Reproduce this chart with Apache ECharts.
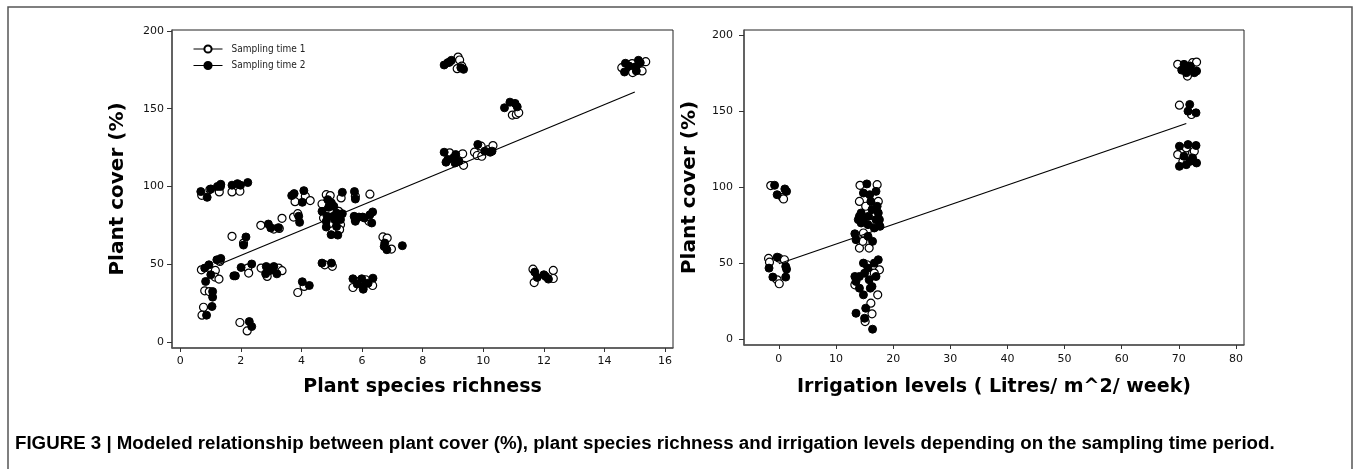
<!DOCTYPE html>
<html>
<head>
<meta charset="utf-8">
<script src="https://cdn.jsdelivr.net/npm/echarts@6/dist/echarts.min.js"></script>
<style>
  html, body { margin: 0; padding: 0; background: #fff; }
  #chart { width: 1355px; height: 469px; }
</style>
</head>
<body>
<div id="chart"></div>
<script>
// tick labels
var yTicks = [0, 50, 100, 150, 200];
var richTicks = [0, 2, 4, 6, 8, 10, 12, 14, 16];
var irrTicks = [0, 10, 20, 30, 40, 50, 60, 70, 80];

// left panel: plant species richness vs plant cover, [x, y]
var richT1 = [
  [0.71, 94.3], [0.98, 98], [1.29, 96.5], [1.71, 96.5], [1.97, 96.9],
  [0.70, 46.4], [1.16, 46], [1.15, 41.7], [1.28, 40.4], [1.31, 51.8], [0.81, 32.9], [0.96, 32.4],
  [0.77, 22.3], [0.72, 17.2], [1.97, 12.5], [2.21, 7.1],
  [1.71, 67.9], [2.23, 47.5], [2.26, 44.3], [2.09, 63.6],
  [2.67, 47.5], [2.87, 42.1], [3.11, 46.8], [3.25, 47.5], [3.36, 45.8],
  [2.66, 75], [3.09, 72.6], [3.27, 73], [3.36, 79.5],
  [3.79, 90.2], [4.13, 93.7], [4.29, 90.9], [3.74, 80.3], [3.88, 82.5],
  [3.88, 31.8], [4.09, 35.7], [4.77, 49.6], [5.02, 48.6],
  [4.68, 88.7], [4.82, 94.7], [4.95, 94.1], [4.73, 79.7], [4.92, 76], [5.23, 84], [5.31, 92.6], [5.29, 75.4], [5.26, 72.2],
  [5.78, 93.7], [6.26, 95], [5.78, 78.6], [6.17, 79.7], [6.23, 77.6],
  [5.70, 35], [5.90, 38.9], [6.12, 40], [6.35, 36.3],
  [6.69, 67.5], [6.83, 66.8], [6.97, 59.7],
  [8.89, 180], [9.17, 183.2], [9.14, 175.7], [9.22, 181.3], [9.29, 177.4],
  [8.89, 121.6], [9.14, 119.4], [9.32, 121], [9.35, 113.6],
  [9.71, 122], [9.80, 119.9], [9.93, 125.9], [10.17, 123.7], [10.32, 126.3], [9.95, 119.4],
  [10.96, 145.9], [11.09, 146.3], [11.17, 147.4],
  [11.64, 46.8], [11.68, 38.2], [12.31, 46], [12.31, 40.8],
  [14.91, 174.9], [14.93, 173.2], [14.91, 179], [15.24, 174.3], [15.36, 180.2], [14.57, 176.4]
];
var richT2 = [
  [0.68, 96.7], [0.89, 93], [1.01, 98.4], [1.23, 100], [1.34, 101.4], [1.33, 100],
  [1.71, 100.8], [1.89, 101.8], [1.99, 100.8], [2.23, 102.5],
  [0.81, 47.5], [0.95, 49.6], [1.01, 43.2], [1.21, 52.8], [1.34, 53.7], [0.84, 38.9],
  [1.07, 32.4], [1.07, 28.8], [1.05, 22.8], [0.87, 17.2], [2.28, 13.1], [2.36, 9.9],
  [1.77, 42.5], [1.82, 42.5], [2.01, 47.9], [2.36, 50.1], [2.17, 67.5], [2.09, 62.3],
  [2.84, 48.5], [2.82, 43.8], [3.09, 48.5], [3.19, 43.8], [2.97, 46],
  [2.91, 75.8], [2.99, 73.3], [3.24, 73.5],
  [3.68, 94.1], [3.76, 95.4], [4.08, 97.3], [4.03, 89.8], [3.91, 80.8], [3.94, 76.9],
  [4.03, 38.7], [4.26, 36.3], [4.68, 50.7], [4.99, 50.7],
  [4.68, 84], [4.87, 91.5], [4.90, 86.6], [4.99, 89.4], [4.82, 77.6], [4.82, 73.9], [4.98, 69],
  [5.1, 78.7], [5.16, 82.9], [5.16, 74.3], [5.2, 68.7], [5.35, 96.2], [5.07, 87.2], [5.29, 78.7],
  [5.05, 80.8], [4.85, 80.8], [5.35, 82.5],
  [5.75, 96.7], [5.78, 91.9], [5.74, 80.8], [5.90, 80.3], [6.02, 80.3], [6.08, 79.7], [6.26, 81.8],
  [6.35, 83.6], [6.32, 76.5], [5.78, 77.6],
  [5.70, 40.6], [5.84, 37.2], [6.04, 35.7], [5.99, 40.6], [6.2, 37.8], [6.36, 41], [6.04, 33.9],
  [6.73, 61.4], [6.82, 59.3], [6.75, 63.6], [7.33, 61.9],
  [8.71, 178.1], [8.83, 179.6], [8.95, 181.1], [9.26, 176.4], [9.35, 175.3],
  [8.71, 122], [8.77, 115.6], [8.83, 117.3], [9.01, 118.3], [9.07, 115.1], [9.2, 116.2], [9.09, 120.5],
  [9.82, 127], [10.05, 122.7], [10.23, 122], [10.29, 122.7],
  [10.70, 150.6], [10.88, 154.2], [11.05, 153.4], [11.12, 151.2],
  [11.70, 44.9], [11.78, 41.5], [12.0, 43.2], [12.15, 40.4], [12.06, 42.1],
  [14.69, 179.2], [14.66, 173.6], [14.81, 177.4], [15.12, 181.1], [15.03, 177], [15.18, 179.6], [15.05, 174.3]
];
var richFitX = [1.28, 15.0];
var richFitY = [49.8, 160.7];

// right panel: irrigation level vs plant cover, [x, y]
var irrT1 = [
  [-1.42, 100.9], [0.6, 93.2], [0.82, 92.1],
  [-1.8, 53], [-1.64, 50.5], [0, 53.2], [0.97, 52.1], [-0.3, 38.9], [0.07, 36.3],
  [14.2, 101.1], [17.2, 101.5], [14.1, 90.5], [15.2, 87.3], [15.9, 77.4], [14.8, 69.7],
  [14.1, 59.8], [15.8, 59.8], [14.7, 64.2], [17.4, 90.5], [16.7, 80.7],
  [13.3, 35.6], [15.4, 48.8], [17.6, 45.5], [17.3, 29], [16.1, 23.5], [16.3, 16.5], [15.1, 11.4], [16.7, 43.3],
  [69.8, 180.7], [72.4, 181.8], [73.1, 182.2], [71.5, 173],
  [70.1, 153.8], [72.2, 147.7],
  [69.8, 121.3], [71.3, 125.7], [72.4, 122.4], [72.7, 123.5], [70.7, 116.9]
];
var irrT2 = [
  [-0.75, 101.1], [-0.3, 94.9], [1.05, 98.7], [1.35, 97.1],
  [-1.72, 46.6], [-0.3, 53.8], [1.2, 47.7], [1.35, 45.9], [-1.05, 40.7], [1.2, 40.7],
  [15.4, 102], [14.8, 96], [15.9, 94.9], [17.0, 97.1], [14.4, 82.9], [13.9, 78.5], [14.8, 78.5],
  [15.7, 80.7], [16.3, 85.1], [17.4, 82.9], [17.0, 78.5], [17.7, 74.1], [16.7, 73], [15.6, 75.2],
  [14.4, 76.3], [13.3, 69.2], [13.5, 65.3], [15.6, 67.5], [16.4, 64.2], [17.2, 87.3], [16.1, 90.5],
  [14.1, 80.7], [17.6, 78.5],
  [13.3, 41.1], [13.5, 37.8], [14.1, 33.4], [14.8, 49.9], [15.0, 43.3], [15.6, 46.6], [15.8, 38.9],
  [16.7, 49.9], [17.4, 52.1], [16.3, 34.5], [17.0, 41.1], [16.0, 33.4], [14.8, 29], [13.5, 16.9],
  [15.2, 20.2], [15.0, 13.6], [16.4, 6.4], [14.1, 41.1],
  [70.9, 180.7], [71.3, 175.2], [72.0, 179.6], [72.7, 175.2], [71.6, 177.4], [70.5, 176.9], [73.1, 176.3],
  [71.9, 154.3], [71.6, 149.9], [73.0, 148.8],
  [70.1, 126.8], [70.1, 113.6], [70.9, 120.2], [71.6, 127.9], [72.0, 116.9], [73.0, 127.3],
  [73.1, 115.8], [71.3, 114.7], [72.4, 119.1]
];
var irrFitX = [0, 71.3];
var irrFitY = [49.5, 141.8];

var fit = function (xs, ys) {
  return xs.map(function (x, i) { return [x, ys[i]]; });
};

var tickFont = { color: '#111', fontSize: 11, fontFamily: 'DejaVu Sans' };
var nameFont = { color: '#000', fontSize: 20, fontWeight: 'bold', fontFamily: 'DejaVu Sans' };

function xAxis(idx, min, max, ticks, name, gap, margin) {
  return {
    type: 'value', gridIndex: idx, min: min, max: max,
    name: name, nameLocation: 'middle', nameGap: gap,
    nameTextStyle: Object.assign({}, nameFont, { fontSize: 19 }),
    axisLine: { show: true, onZero: false, lineStyle: { color: '#555', width: 1.5 } },
    axisTick: { show: true, length: 4, customValues: ticks, lineStyle: { color: '#333' } },
    axisLabel: { customValues: ticks, margin: margin, textStyle: tickFont },
    splitLine: { show: false }
  };
}
function yAxis(idx, min, max, name, margin) {
  return {
    type: 'value', gridIndex: idx, min: min, max: max,
    name: name, nameLocation: 'middle', nameGap: 44, nameTextStyle: nameFont,
    axisLine: { show: true, onZero: false, lineStyle: { color: '#555', width: 1.5 } },
    axisTick: { show: true, length: 5, customValues: yTicks, lineStyle: { color: '#333' } },
    axisLabel: { customValues: yTicks, margin: margin, textStyle: tickFont },
    splitLine: { show: false }
  };
}
function pts(name, data, idx, open) {
  return {
    name: name, type: 'line', xAxisIndex: idx, yAxisIndex: idx, data: data,
    symbol: 'circle', symbolSize: 8, showAllSymbol: true,
    lineStyle: { opacity: 0 },
    itemStyle: open ? { color: '#fff', borderColor: '#000', borderWidth: 1.2 } : { color: '#000', borderColor: '#000', borderWidth: 1 },
    emphasis: { disabled: true }
  };
}
function fitLine(data, idx) {
  return {
    type: 'line', xAxisIndex: idx, yAxisIndex: idx, data: data, symbol: 'none',
    lineStyle: { color: '#000', width: 1.2 }, silent: true, z: 5
  };
}

var myChart = echarts.init(document.getElementById('chart'));
var option = {
  backgroundColor: '#fff',
  animation: false,
  grid: [
    { left: 172, top: 30, width: 501, height: 318, show: true, borderColor: '#222', borderWidth: 1 },
    { left: 744, top: 30, width: 500, height: 315, show: true, borderColor: '#222', borderWidth: 1 }
  ],
  legend: {
    data: ['Sampling time 1', 'Sampling time 2'],
    orient: 'vertical', left: 188, top: 39,
    itemWidth: 29, itemHeight: 9, itemGap: 6.5,
    lineStyle: { opacity: 1, width: 1, color: '#000' },
    textStyle: { fontSize: 10, color: '#222', fontFamily: 'DejaVu Sans Condensed, DejaVu Sans', padding: [0, 0, 0, 4] }
  },
  xAxis: [
    xAxis(0, -0.27, 16.26, richTicks, 'Plant species richness', 30, 8),
    xAxis(1, -6.1, 81.4, irrTicks, 'Irrigation levels ( Litres/ m^2/ week)', 33, 9)
  ],
  yAxis: [
    yAxis(0, -3.9, 200.6, 'Plant cover (%)', 8),
    yAxis(1, -4, 203.3, 'Plant cover (%)', 11)
  ],
  series: [
    pts('Sampling time 1', richT1, 0, true),
    pts('Sampling time 2', richT2, 0, false),
    fitLine(fit(richFitX, richFitY), 0),
    pts('Sampling time 1', irrT1, 1, true),
    pts('Sampling time 2', irrT2, 1, false),
    fitLine(fit(irrFitX, irrFitY), 1)
  ],
  graphic: [
    { type: 'polyline', shape: { points: [[8, 469], [8, 7], [1352, 7], [1352, 469]] },
      style: { stroke: '#555', lineWidth: 1.5, fill: null } },
    { type: 'text', left: 15, top: 434,
      style: { text: 'FIGURE 3 | Modeled relationship between plant cover (%), plant species richness and irrigation levels depending on the sampling time period.',
        font: 'bold 18.7px "Liberation Sans", Arial, sans-serif', fill: '#000' } }
  ]
};
myChart.setOption(option);
</script>
</body>
</html>
